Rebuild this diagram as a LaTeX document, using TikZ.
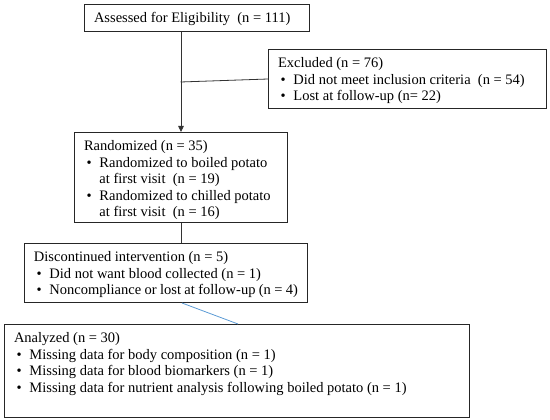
\documentclass[tikz,border=0pt]{standalone}
\usepackage{fontspec}
\setmainfont{Liberation Serif}
\usetikzlibrary{arrows.meta}
\newcommand{\itm}{\makebox[15.5pt][l]{\hspace{2.5pt}\textbullet}}
\newcommand{\cnt}{\hspace*{15.5pt}}
\newcommand{\bxtext}[3]{\begin{minipage}[c][#2pt][t]{#1pt}\fontsize{14.5}{16.5}\selectfont\strut #3\end{minipage}}
\tikzset{
  box/.style={draw=black!85, line width=1pt, inner xsep=9.5pt, inner ysep=6.5pt, anchor=north west, align=left},
  conn/.style={draw=black!80, line width=0.8pt},
  arr/.style={conn, -{Triangle[length=6pt,width=5.5pt]}},
  blueconn/.style={draw={rgb,255:red,91;green,155;blue,213}, line width=0.8pt}
}
\begin{document}
\begin{tikzpicture}[x=1pt,y=-1pt]
\useasboundingbox[fill=white] (0,0) rectangle (550,420);
\node[box] (B1) at (84,4) {\bxtext{206}{14}{Assessed for Eligibility\ \ (n = 111)}};
\node[box] (Excl) at (268,49) {\bxtext{259}{46}{Excluded (n = 76)\\
\itm Did not meet inclusion criteria\ \ (n = 54)\\
\itm Lost at follow-up (n= 22)}};
\node[box] (Rand) at (74,132) {\bxtext{194}{77}{Randomized (n = 35)\\
\itm Randomized to boiled potato\\
\cnt at first visit\ \ (n = 19)\\
\itm Randomized to chilled potato\\
\cnt at first visit\ \ (n = 16)}};
\node[box] (Disc) at (24,243) {\bxtext{264}{46}{Discontinued intervention (n = 5)\\
\itm Did not want blood collected (n = 1)\\
\itm Noncompliance or lost at follow-up (n = 4)}};
\node[box] (Anal) at (4,324) {\bxtext{446}{80}{Analyzed (n = 30)\\
\itm Missing data for body composition (n = 1)\\
\itm Missing data for blood biomarkers (n = 1)\\
\itm Missing data for nutrient analysis following boiled potato (n = 1)}};
\coordinate (jn) at (180.5,82);
\coordinate (bs) at (182,302);
\coordinate (be) at (238,324);
\draw[arr] (B1.south -| Rand.north) -- (Rand.north);
\draw[conn] (jn) -- (Excl.west);
\draw[conn] (Rand.south) -- (Rand.south |- Disc.north);
\draw[blueconn] (Disc.south -| bs) -- (Anal.north -| be);
\end{tikzpicture}
\end{document}
